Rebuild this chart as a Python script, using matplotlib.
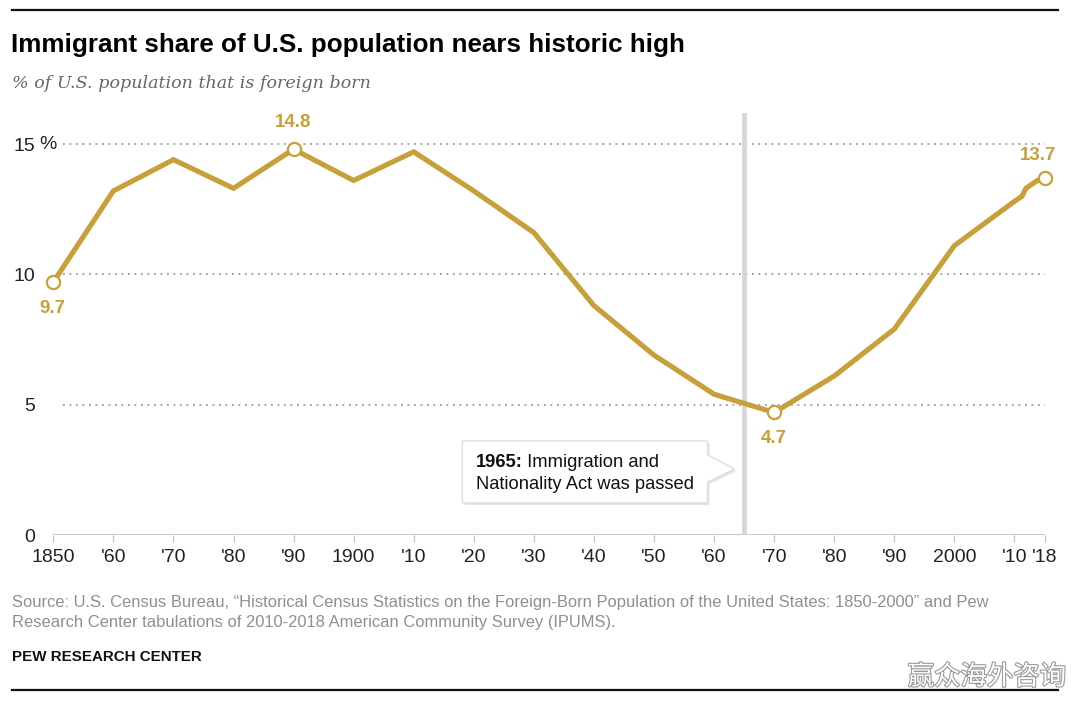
import numpy as np
import matplotlib
matplotlib.use("Agg")
import matplotlib.pyplot as plt
from matplotlib.patches import Polygon
from matplotlib.lines import Line2D
import matplotlib.patheffects as pe

# ---------------- data ----------------
years = [1850, 1860, 1870, 1880, 1890, 1900, 1910, 1920, 1930, 1940, 1950,
         1960, 1970, 1980, 1990, 2000, 2010, 2011, 2012, 2013, 2014, 2015,
         2016, 2017, 2018]
share = [9.7, 13.2, 14.4, 13.3, 14.8, 13.6, 14.7, 13.2, 11.6, 8.8, 6.9,
         5.4, 4.7, 6.1, 7.9, 11.1, 12.8, 12.9, 13.0, 13.3, 13.4, 13.5,
         13.6, 13.6, 13.7]
highlight_years = [1850, 1890, 1970, 2018]
xtick_years = [1850, 1860, 1870, 1880, 1890, 1900, 1910, 1920, 1930, 1940,
               1950, 1960, 1970, 1980, 1990, 2000, 2010, 2018]
xtick_labels = ["1850", "'60", "'70", "'80", "'90", "1900", "'10", "'20",
                "'30", "'40", "'50", "'60", "'70", "'80", "'90", "2000",
                "'10", "'18"]
ytick_values = [0, 5, 10, 15]
ytick_labels = ["0", "5", "10", "15"]
event_year = 1965
event_bold = "1965:"
event_text = [" Immigration and", "Nationality Act was passed"]

title = "Immigrant share of U.S. population nears historic high"
subtitle = "% of U.S. population that is foreign born"
source = ["Source: U.S. Census Bureau, \u201cHistorical Census Statistics on the Foreign-Born Population of the United States: 1850-2000\u201d and Pew",
          "Research Center tabulations of 2010-2018 American Community Survey (IPUMS)."]
credit = "PEW RESEARCH CENTER"
watermark = "赢众海外咨询"

# ---------------- style ----------------
GOLD = "#C8A03A"
SANS = ["Liberation Sans", "DejaVu Sans"]
plt.rcParams["font.family"] = SANS

# the chart compresses the 2010s on the time axis
COMPRESS = 0.636


def fwd(x):
    x = np.asarray(x, dtype=float)
    return np.where(x <= 2010, x, 2010 + (x - 2010) * COMPRESS)


def inv(x):
    x = np.asarray(x, dtype=float)
    return np.where(x <= 2010, x, 2010 + (x - 2010) / COMPRESS)


W, H = 1080, 701
fig = plt.figure(figsize=(W / 100, H / 100), dpi=100)
fig.patch.set_facecolor("white")

ax_left, ax_right, ax_bottom, ax_top = 53.3, 1045.0, 535.0, 113.0
ax = fig.add_axes([ax_left / W, 1 - ax_bottom / H,
                   (ax_right - ax_left) / W, (ax_bottom - ax_top) / H])
ax.set_xscale("function", functions=(fwd, inv))
ax.set_xlim(years[0], years[-1])
ax.set_ylim(0, 16.19)
for s in ax.spines.values():
    s.set_visible(False)

# grid lines
for v in ytick_values[1:]:
    ax.axhline(v, xmin=0.01, xmax=1.0, color="#9a9a9a", lw=1.3,
               ls=(0, (1, 2.6)), zorder=1)
ax.axhline(0, color="#c4c4c4", lw=1.3, zorder=1)

# ticks
ax.set_xticks(xtick_years)
ax.set_xticklabels(xtick_labels)
ax.tick_params(axis="x", length=5, width=1, color="#c4c4c4", pad=5,
               labelsize=14, labelcolor="#222222")
ax.set_yticks(ytick_values)
ax.set_yticklabels(ytick_labels)
ax.tick_params(axis="y", length=0, pad=13, labelsize=14, labelcolor="#222222")
ax.annotate("%", xy=(0, ytick_values[-1]), xycoords=("axes fraction", "data"),
            xytext=(-10, 0), textcoords="offset points", ha="left",
            va="center", fontsize=14, color="#222222")

# event line
ax.axvline(event_year, color="#d6d6d6", lw=3.4, zorder=2)

# main line
ax.plot(years, share, color=GOLD, lw=3.7, solid_joinstyle="miter",
        solid_capstyle="butt", zorder=3, clip_on=False)

# highlighted points and labels
hy = [share[years.index(y)] for y in highlight_years]
ax.plot(highlight_years, hy, "o", ms=9.5, mfc="white", mec=GOLD, mew=1.6,
        zorder=4, clip_on=False)
label_offsets = {1850: (-1, -19), 1890: (0, 19), 1970: (0, -19), 2018: (-5, 16)}
for yr, v in zip(highlight_years, hy):
    dx, dy = label_offsets[yr]
    ax.annotate(f"{v:.1f}", xy=(yr, v), xytext=(dx, dy),
                textcoords="offset points", ha="center", va="center",
                fontsize=13.5, fontweight="bold", color=GOLD, zorder=5,
                annotation_clip=False)

# callout box
L, R = event_year - 46.9, event_year - 6.1
T, B = 3.61, 1.23
tip_x, tip_y = event_year - 1.6, 2.53
bt, bb = 3.08, 2.03
callout = Polygon([(L, T), (R, T), (R, bt), (tip_x, tip_y), (R, bb), (R, B), (L, B)],
                  closed=True, facecolor="white", edgecolor="#dddddd", lw=1,
                  zorder=5)
callout.set_path_effects([pe.SimplePatchShadow(offset=(1.5, -1.5),
                                               shadow_rgbFace="#999999", alpha=0.25),
                          pe.Normal()])
ax.add_patch(callout)
tx = L + 2.2
t1 = ax.text(tx, 2.80, event_bold, fontsize=13.2, fontweight="bold",
             color="#111111", va="center", ha="left", zorder=6)
ax.annotate(event_text[0], xy=(1, 0.5), xycoords=t1, xytext=(0, 0),
            textcoords="offset points", va="center", ha="left",
            fontsize=13.2, color="#111111", zorder=6)
ax.text(tx, 1.92, event_text[1], fontsize=13.2, color="#111111",
        va="center", ha="left", zorder=6)

# ---------------- frame texts ----------------
def fx(px):
    return px / W


def fy(py):
    return 1 - py / H


fig.add_artist(Line2D([fx(12), fx(1058)], [fy(10), fy(10)], color="#111111", lw=1.6))
fig.add_artist(Line2D([fx(12), fx(1058)], [fy(690), fy(690)], color="#111111", lw=1.6))

fig.text(fx(11), fy(45), title, fontsize=18.7, fontweight="bold",
         color="#000000", va="center", ha="left")
fig.text(fx(12), fy(83), subtitle, fontsize=12.6, style="italic",
         family=["DejaVu Serif"], color="#666666",
         va="center", ha="left")
fig.text(fx(12), fy(603), source[0], fontsize=11.9, color="#8f8f8f",
         va="center", ha="left")
fig.text(fx(12), fy(623), source[1], fontsize=11.9, color="#8f8f8f",
         va="center", ha="left")
fig.text(fx(12), fy(657), credit, fontsize=10.9, fontweight="bold",
         color="#111111", va="center", ha="left")
wm = fig.text(fx(1066), fy(677), watermark, fontsize=19,
              family=["Noto Sans CJK SC", "DejaVu Sans"], color="white",
              va="center", ha="right")
wm.set_path_effects([pe.withStroke(linewidth=1.6, foreground="#9a9a9a")])

fig.savefig("out.png", dpi=100, facecolor="white")
